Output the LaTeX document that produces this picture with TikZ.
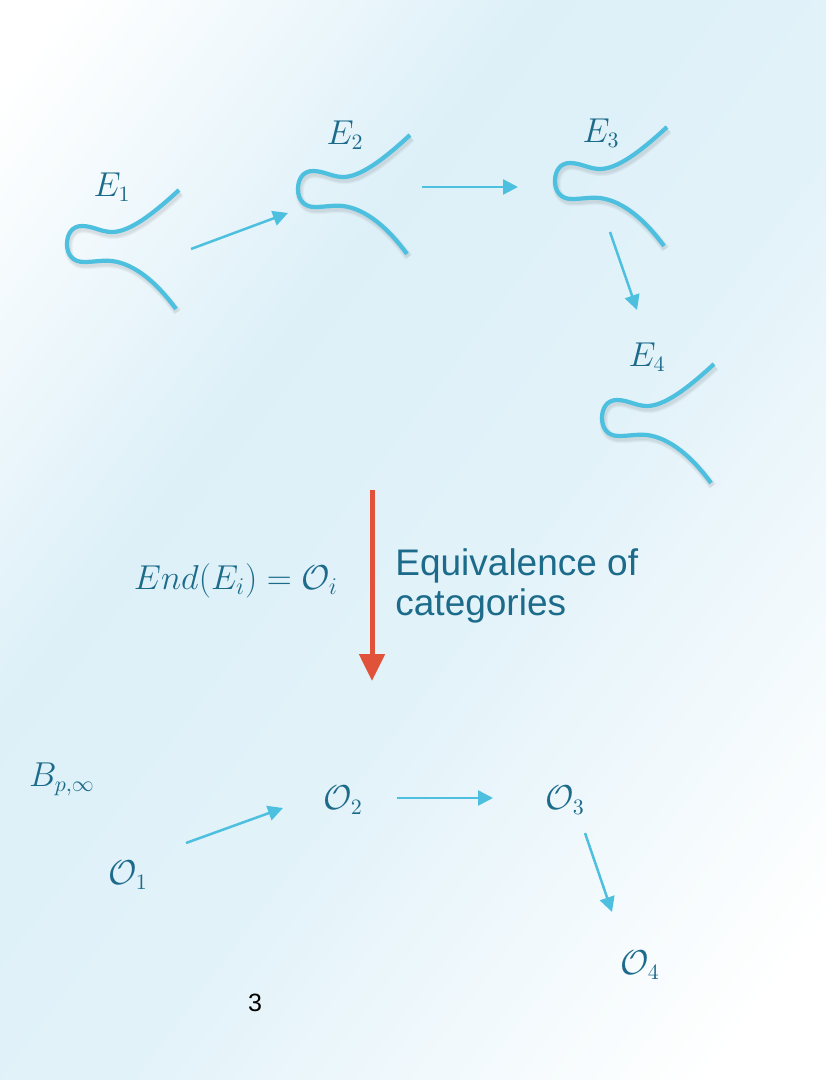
\documentclass[tikz,border=0pt]{standalone}
\usepackage{fontspec}
\setsansfont{Liberation Sans}
\usetikzlibrary{arrows.meta}
\definecolor{curveblue}{HTML}{4DBFDF}
\definecolor{labteal}{HTML}{1D6B8B}
\definecolor{redarr}{HTML}{E0533A}
\definecolor{bgblue}{HTML}{DDF0F8}
\pgfdeclarehorizontalshading{bgshade}{100bp}{color(0bp)=(white); color(18bp)=(white); color(38bp)=(bgblue); color(55bp)=(bgblue!85!white); color(80bp)=(white); color(100bp)=(white)}
\newcommand\ecpath{(112,-53) .. controls (85,-28) and (62,-11) .. (45,-11) .. controls (34,-11) and (26,-17) .. (15,-17) .. controls (5,-17) and (0,-9) .. (0,1) .. controls (0,12) and (6,19) .. (17,19) .. controls (27,19) and (35,17) .. (45,18) .. controls (68,21) and (90,40) .. (109,66)}
\tikzset{
  curveline/.style={draw=curveblue, line width=2.1pt},
  curveshadow/.style={draw=black, line width=#1, opacity=0.035},
  ecurve/.pic={
    \foreach \w in {2.2pt,3.2pt,4.2pt}{
      \draw[curveshadow=\w, shift={(1.5,3)}] \ecpath;
    }
    \draw[curveline] \ecpath;
  },
  mlabel/.style={text=labteal, font=\fontsize{16}{19}\selectfont, inner sep=0pt},
  conn/.style={draw=curveblue, line width=1.25pt, -{Triangle[length=7.5pt,width=7.5pt]}},
  bigarrow/.style={draw=redarr, line width=2.5pt, -{Triangle[length=13.5pt,width=12.5pt]}},
}
\begin{document}
\begin{tikzpicture}[x=0.5pt,y=-0.5pt]
\useasboundingbox (0,0) rectangle (826,1080);
\shade[shading=bgshade, shading angle=-37] (0,0) rectangle (826,1080);

% elliptic curves
\pic at (67,243) {ecurve};
\pic at (298,188) {ecurve};
\pic at (555,180) {ecurve};
\pic at (602,417) {ecurve};

\node[mlabel] (e1) at (112,187) {$E_1$};
\node[mlabel] (e2) at (345,135) {$E_2$};
\node[mlabel] (e3) at (601,133) {$E_3$};
\node[mlabel] (e4) at (647,357) {$E_4$};

\coordinate (a1s) at (191,249);
\coordinate (a1e) at (288,213);
\coordinate (a2s) at (422,187);
\coordinate (a2e) at (518,187);
\coordinate (a3s) at (610,232);
\coordinate (a3e) at (637,310);
\draw[conn] (a1s) -- (a1e);
\draw[conn] (a2s) -- (a2e);
\draw[conn] (a3s) -- (a3e);

% functor arrow
\coordinate (r1) at (372,490);
\coordinate (r2) at (372,681);
\draw[bigarrow] (r1) -- (r2);
\node[mlabel, font=\fontsize{17}{20}\selectfont] (endo) at (236,581) {$End(E_i) = \mathcal{O}_i$};
\node[text=labteal, font=\sffamily\fontsize{18.5}{20}\selectfont, align=left, anchor=west, inner sep=0pt] (equiv) at (395,586) {Equivalence of\\categories};

% orders
\node[mlabel] (bp) at (62,779) {$B_{p,\infty}$};
\node[mlabel] (o1) at (128,875) {$\mathcal{O}_1$};
\node[mlabel] (o2) at (343,800) {$\mathcal{O}_2$};
\node[mlabel] (o3) at (565,800) {$\mathcal{O}_3$};
\node[mlabel] (o4) at (640,965) {$\mathcal{O}_4$};

\coordinate (b1s) at (186,843);
\coordinate (b1e) at (283,808);
\coordinate (b2s) at (397,798);
\coordinate (b2e) at (493,798);
\coordinate (b3s) at (585,833);
\coordinate (b3e) at (612,912);
\draw[conn] (b1s) -- (b1e);
\draw[conn] (b2s) -- (b2e);
\draw[conn] (b3s) -- (b3e);

\node[font=\sffamily\fontsize{12.5}{14}\selectfont, text=black, inner sep=0pt] (pg) at (255,1003) {3};
\end{tikzpicture}
\end{document}
